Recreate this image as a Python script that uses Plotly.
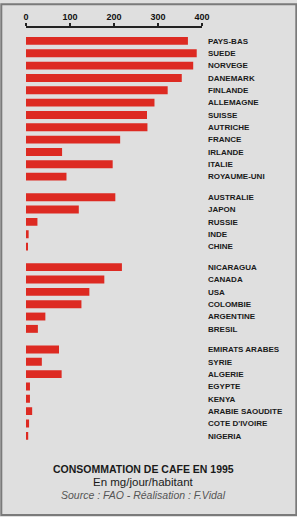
import plotly.graph_objects as go

# ---- data (mg/jour/habitant) ----
g1_countries = ["PAYS-BAS", "SUEDE", "NORVEGE", "DANEMARK", "FINLANDE", "ALLEMAGNE",
                "SUISSE", "AUTRICHE", "FRANCE", "IRLANDE", "ITALIE", "ROYAUME-UNI"]
g1_values = [368, 388, 380, 354, 322, 292, 275, 276, 214, 82, 197, 92]

g2_countries = ["AUSTRALIE", "JAPON", "RUSSIE", "INDE", "CHINE"]
g2_values = [203, 120, 26, 6, 4]

g3_countries = ["NICARAGUA", "CANADA", "USA", "COLOMBIE", "ARGENTINE", "BRESIL"]
g3_values = [218, 178, 144, 126, 44, 27]

g4_countries = ["EMIRATS ARABES", "SYRIE", "ALGERIE", "EGYPTE", "KENYA",
                "ARABIE SAOUDITE", "COTE D'IVOIRE", "NIGERIA"]
g4_values = [75, 36, 81, 9, 9, 14, 7, 5]

x_ticks = [0, 100, 200, 300, 400]

groups = [(g1_countries, g1_values), (g2_countries, g2_values),
          (g3_countries, g3_values), (g4_countries, g4_values)]

# ---- layout geometry (pixels) ----
W, H = 297, 517
ML, MR, MT = 25.7, 95.3, 25.0
SLOT, GAP, TOPPAD = 12.44, 8.3, 6.8
total_slots = sum(len(c) for c, _ in groups)
plot_h = TOPPAD + total_slots * SLOT + GAP * (len(groups) - 1)
MB = H - MT - plot_h
plot_w = W - ML - MR

BAR = "#dd2a22"
BG = "#dfdfdf"
LBL_FONT = dict(family="Liberation Sans", size=8, color="#1a1a1a", weight="bold")


def clamp(v):
    return min(1.0, max(0.0, round(v, 6)))


fig = go.Figure()
y_cursor = 0.0  # pixels from plot top
for i, (cats, vals) in enumerate(groups):
    n = len(cats)
    pad = TOPPAD if i == 0 else 0.0
    top = y_cursor
    bottom = y_cursor + pad + n * SLOT
    y_cursor = bottom + GAP
    dom = [clamp((plot_h - bottom) / plot_h), clamp((plot_h - top) / plot_h)]
    sfx = "" if i == 0 else str(i + 1)
    fig.add_trace(go.Bar(x=vals, y=cats, orientation="h", marker_color=BAR,
                         marker_line_width=0, xaxis="x" + sfx, yaxis="y" + sfx,
                         hoverinfo="x+y", showlegend=False))
    fig.layout["yaxis" + sfx] = dict(
        domain=dom, anchor="x" + sfx, side="right", type="category",
        range=[n - 0.5, -0.5 - pad / SLOT], showgrid=False, zeroline=False,
        showline=False, ticks="", tickfont=LBL_FONT, ticklabelstandoff=5,
        fixedrange=True)
    xa = dict(range=[0, 400], anchor="y" + sfx, showgrid=False, zeroline=False,
              fixedrange=True)
    if i == 0:
        xa.update(side="top", showline=True, linecolor="#222222", linewidth=1.5,
                  ticks="outside", ticklen=3, tickwidth=2, tickcolor="#222222",
                  tickvals=x_ticks, ticktext=[str(t) for t in x_ticks],
                  tickfont=dict(family="Liberation Sans", size=9, color="#111111",
                                weight="bold"))
    else:
        xa.update(visible=False)
    fig.layout["xaxis" + sfx] = xa

# frame around the whole picture
px2x = lambda p: (p - ML) / plot_w
py2y = lambda p: (H - MB - p) / plot_h
fig.add_shape(type="rect", xref="paper", yref="paper",
              x0=px2x(1), x1=px2x(W - 1), y0=py2y(H - 1), y1=py2y(1),
              line=dict(color="#7a7a7a", width=2), layer="below")

title_lines = [
    ("CONSOMMATION DE CAFE EN 1995", 470.0, dict(size=10.5, color="#1a1a1a", weight="bold")),
    ("En mg/jour/habitant", 483.0, dict(size=11.5, color="#1a1a1a", weight="normal")),
    ("<i>Source : FAO - Réalisation : F.Vidal</i>", 495.5, dict(size=10.5, color="#555555", weight="normal")),
]
for txt, ypx, f in title_lines:
    fig.add_annotation(text=txt, xref="paper", yref="paper",
                       x=px2x(143.5), y=py2y(ypx), xanchor="center", yanchor="middle",
                       showarrow=False, font=dict(family="Liberation Sans", **f))

fig.update_layout(width=W, height=H, margin=dict(l=ML, r=MR, t=MT, b=MB, pad=0),
                  paper_bgcolor=BG, plot_bgcolor=BG, bargap=0.36,
                  showlegend=False)

fig.write_html("out.html", config={"displayModeBar": False})
